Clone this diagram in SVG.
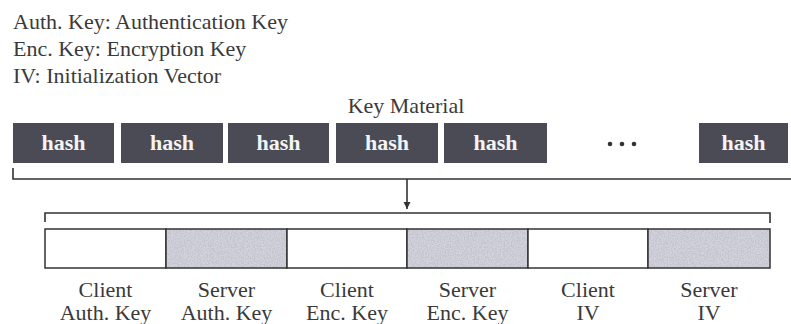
<svg xmlns="http://www.w3.org/2000/svg" width="791" height="324" viewBox="0 0 791 324">
  <style>
    .txt { font-family: "Liberation Serif", "Times New Roman", serif; font-size: 22px; fill: #3a3a3a; }
    .lbl { font-family: "Liberation Serif", "Times New Roman", serif; font-size: 22px; fill: #3a3a3a; text-anchor: middle; }
    .hashbox { fill: #4b4b55; }
    .hashtxt { font-family: "Liberation Serif", "Times New Roman", serif; font-size: 22px; font-weight: bold; fill: #f4f4f4; text-anchor: middle; }
    .line { stroke: #333; stroke-width: 1.6; fill: none; }
    .seg { stroke: #333; stroke-width: 1.5; }
    .plain { fill: #ffffff; }
    .speck { fill: #b9b9c6; filter: url(#grain); }
  </style>
  <defs>
    <!-- speckled grey texture for the server key fields -->
    <filter id="grain" x="0" y="0" width="1" height="1">
      <feTurbulence type="fractalNoise" baseFrequency="0.7" numOctaves="2" seed="4" result="n"/>
      <feColorMatrix in="n" type="matrix" values="0 0 0 0 0.55  0 0 0 0 0.55  0 0 0 0 0.62  4 0 0 0 -1.6" result="g"/>
      <feFlood flood-color="#d2d2dc" result="base"/>
      <feComposite in="g" in2="base" operator="over" result="tex"/>
      <feComposite in="tex" in2="SourceGraphic" operator="in"/>
    </filter>
    <marker id="arrow" viewBox="0 0 10 10" refX="10" refY="5" markerWidth="7" markerHeight="8" markerUnits="userSpaceOnUse" orient="auto">
      <path d="M0,0 L10,5 L0,10 z" fill="#333"/>
    </marker>
  </defs>

  <!-- legend -->
  <g id="legend">
    <text class="txt" x="13" y="29">Auth. Key: Authentication Key</text>
    <text class="txt" x="13" y="56">Enc. Key: Encryption Key</text>
    <text class="txt" x="13" y="83">IV: Initialization Vector</text>
  </g>

  <g id="key-material-title">
    <text class="lbl" x="406" y="113">Key Material</text>
  </g>

  <!-- hash blocks -->
  <g id="hash1"><rect class="hashbox" x="13" y="123" width="101" height="40"/><text class="hashtxt" x="63.5" y="150">hash</text></g>
  <g id="hash2"><rect class="hashbox" x="121" y="123" width="102" height="40"/><text class="hashtxt" x="172" y="150">hash</text></g>
  <g id="hash3"><rect class="hashbox" x="228" y="123" width="101" height="40"/><text class="hashtxt" x="278.5" y="150">hash</text></g>
  <g id="hash4"><rect class="hashbox" x="336" y="123" width="102" height="40"/><text class="hashtxt" x="387" y="150">hash</text></g>
  <g id="hash5"><rect class="hashbox" x="444" y="123" width="103" height="40"/><text class="hashtxt" x="495.5" y="150">hash</text></g>
  <g id="ellipsis">
    <circle cx="610" cy="144" r="2.3" fill="#333"/>
    <circle cx="622" cy="144" r="2.3" fill="#333"/>
    <circle cx="634" cy="144" r="2.3" fill="#333"/>
  </g>
  <g id="hashN"><rect class="hashbox" x="699" y="123" width="89" height="40"/><text class="hashtxt" x="743.5" y="150">hash</text></g>

  <!-- brackets and arrow -->
  <g id="connectors">
    <path class="line" d="M13,168 V179 H791"/>
    <line class="line" x1="407" y1="179" x2="407" y2="209" marker-end="url(#arrow)"/>
    <path class="line" d="M45,222 V213 H770 V223"/>
  </g>

  <!-- derived key fields -->
  <g id="client-auth-key">
    <rect class="plain seg" x="45" y="229" width="121" height="39"/>
    <text class="lbl" x="105.5" y="297">Client</text>
    <text class="lbl" x="105.5" y="320">Auth. Key</text>
  </g>
  <g id="server-auth-key">
    <rect class="speck" x="166" y="229" width="121" height="39"/>
    <rect class="seg" fill="none" x="166" y="229" width="121" height="39"/>
    <text class="lbl" x="226.5" y="297">Server</text>
    <text class="lbl" x="226.5" y="320">Auth. Key</text>
  </g>
  <g id="client-enc-key">
    <rect class="plain seg" x="287" y="229" width="120" height="39"/>
    <text class="lbl" x="347" y="297">Client</text>
    <text class="lbl" x="347" y="320">Enc. Key</text>
  </g>
  <g id="server-enc-key">
    <rect class="speck" x="407" y="229" width="121" height="39"/>
    <rect class="seg" fill="none" x="407" y="229" width="121" height="39"/>
    <text class="lbl" x="467.5" y="297">Server</text>
    <text class="lbl" x="467.5" y="320">Enc. Key</text>
  </g>
  <g id="client-iv">
    <rect class="plain seg" x="528" y="229" width="120" height="39"/>
    <text class="lbl" x="588" y="297">Client</text>
    <text class="lbl" x="588" y="320">IV</text>
  </g>
  <g id="server-iv">
    <rect class="speck" x="648" y="229" width="122" height="39"/>
    <rect class="seg" fill="none" x="648" y="229" width="122" height="39"/>
    <text class="lbl" x="709" y="297">Server</text>
    <text class="lbl" x="709" y="320">IV</text>
  </g>
</svg>
